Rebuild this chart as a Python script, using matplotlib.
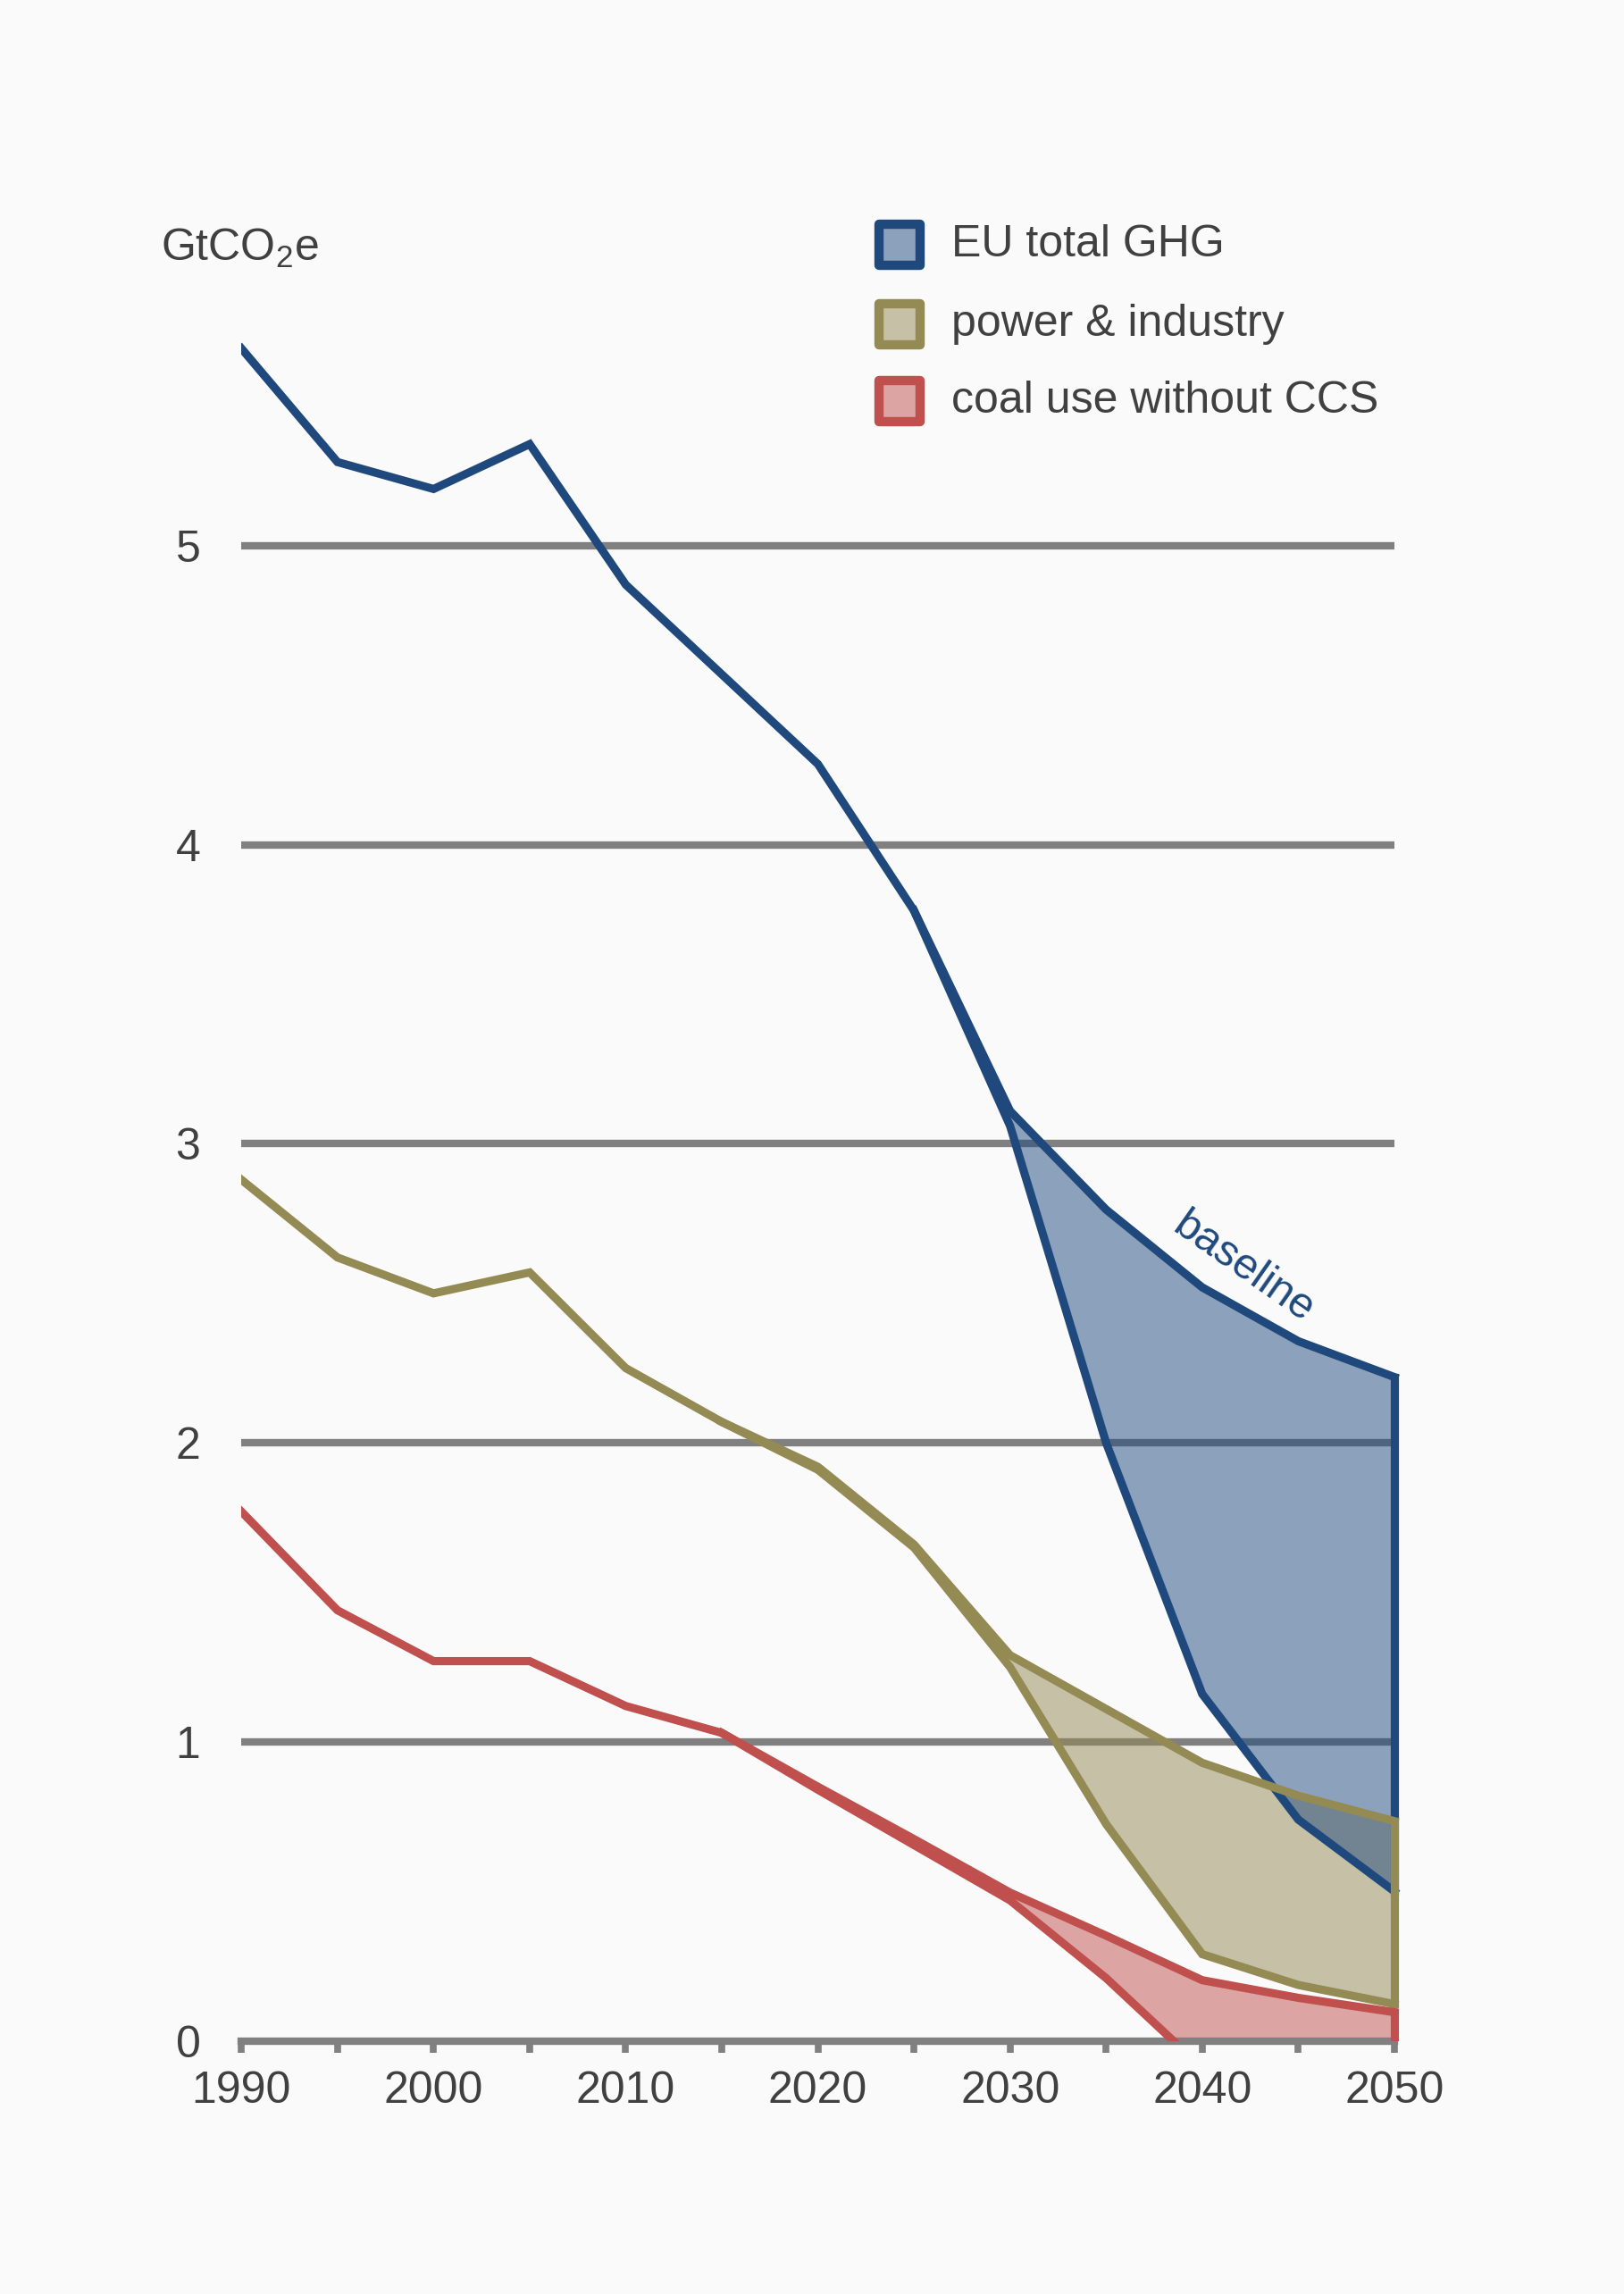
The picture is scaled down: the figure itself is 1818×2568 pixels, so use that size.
import matplotlib
matplotlib.use("Agg")
import matplotlib.pyplot as plt
from matplotlib.patches import Rectangle

plt.rcParams['font.family'] = ['Liberation Sans', 'DejaVu Sans']
plt.rcParams['mathtext.fontset'] = 'custom'
plt.rcParams['mathtext.rm'] = 'Liberation Sans'

# values (GtCO2e)
years = [1990, 1995, 2000, 2005, 2010, 2015, 2020, 2025, 2030, 2035, 2040, 2045, 2050]

eu_base = [5.66, 5.28, 5.19, 5.34, 4.87, 4.57, 4.27, 3.78, 3.11, 2.78, 2.52, 2.34, 2.22]
power_base = [2.88, 2.62, 2.50, 2.57, 2.25, 2.07, 1.92, 1.66, 1.29, 1.11, 0.93, 0.82, 0.735]
coal_base = [1.77, 1.44, 1.27, 1.27, 1.12, 1.03, 0.85, 0.675, 0.496, 0.352, 0.203, 0.144, 0.096]

# policy pathways, starting where they leave the baseline
eu_pol_years = [2025, 2030, 2035, 2040, 2045, 2050]
eu_pol = [3.78, 3.06, 2.00, 1.16, 0.74, 0.50]
power_pol_years = [2015, 2020, 2025, 2030, 2035, 2040, 2045, 2050]
power_pol = [2.07, 1.91, 1.65, 1.25, 0.725, 0.29, 0.187, 0.123]
coal_pol_years = [2015, 2020, 2025, 2030, 2035, 2040, 2045, 2050]
coal_pol = [1.03, 0.84, 0.655, 0.470, 0.21, -0.09, -0.10, -0.10]

labels = ['EU total GHG', 'power & industry', 'coal use without CCS']
colors = ['#1f497d', '#948a54', '#c0504d']

bg = '#fafafa'
grey = '#808080'
txt = '#404040'
lw = 6.6

fig = plt.figure(figsize=(18.18, 25.68), dpi=100, facecolor=bg)
ax = fig.add_axes([0.14865, 0.11033, 0.7147, 0.7821])
ax.set_facecolor(bg)

series = [
    (years, eu_base, eu_pol_years, eu_pol),
    (years, power_base, power_pol_years, power_pol),
    (years, coal_base, coal_pol_years, coal_pol),
]

# grid lines
for v in [1, 2, 3, 4, 5]:
    ax.hlines(v, 1990, 2050, color=grey, lw=6, zorder=1)

# fills: power and coal first, EU total on top
for i in [1, 2, 0]:
    x, base, px, pol = series[i]
    base_sub = [base[x.index(y)] for y in px]
    ax.fill_between(px, base_sub, pol, color=colors[i], alpha=0.5, lw=0, zorder=2)

# lines
for i in [0, 1, 2]:
    x, base, px, pol = series[i]
    ax.plot(x, base, color=colors[i], lw=lw, zorder=3, solid_joinstyle='miter')
    ax.plot(px, pol, color=colors[i], lw=lw, zorder=3, solid_joinstyle='miter')
    low = max(pol[-1], 0)
    ax.plot([px[-1], px[-1]], [low, base[-1]], color=colors[i], lw=lw, zorder=3)

ax.set_xlim(1990, 2050.4)
ax.set_ylim(0, 6)

for s in ['top', 'right', 'left']:
    ax.spines[s].set_visible(False)
ax.spines['bottom'].set_bounds(1990, 2050)
ax.spines['bottom'].set_color(grey)
ax.spines['bottom'].set_linewidth(6)
ax.spines['bottom'].set_zorder(2.5)

ax.set_xticks([1990, 2000, 2010, 2020, 2030, 2040, 2050])
ax.set_xticks([1995, 2005, 2015, 2025, 2035, 2045], minor=True)
ax.tick_params(axis='x', which='both', direction='out', length=9, width=5.5, color=grey)
ax.tick_params(axis='x', which='major', labelsize=36, labelcolor=txt, pad=15)
ax.set_yticks([0, 1, 2, 3, 4, 5])
ax.tick_params(axis='y', length=0, labelsize=36, labelcolor=txt, pad=33)

ax.text(2042.15, 2.585, 'baseline', color=colors[0], fontsize=35, rotation=-35,
        ha='center', va='center', rotation_mode='anchor', zorder=4)

fig.text(0.0991, 0.8865, 'GtCO$_{\\mathrm{2}}$e', fontsize=36, color=txt, va='baseline')

# legend drawn by hand
sq_w = 46 / 1818
sq_h = 46 / 2568
row_y = [0.8932, 0.8588, 0.8250]
for lab, c, y in zip(labels, colors, row_y):
    fig.add_artist(Rectangle((0.5415, y - sq_h / 2), sq_w, sq_h, transform=fig.transFigure,
                             facecolor=c, edgecolor='none', alpha=0.5))
    fig.add_artist(Rectangle((0.5415, y - sq_h / 2), sq_w, sq_h, transform=fig.transFigure,
                             facecolor='none', edgecolor=c, lw=7.5, joinstyle='round'))
    fig.text(0.5856, y, lab, fontsize=36, color=txt, va='center')

fig.savefig('out.png', dpi=100, facecolor=bg)
